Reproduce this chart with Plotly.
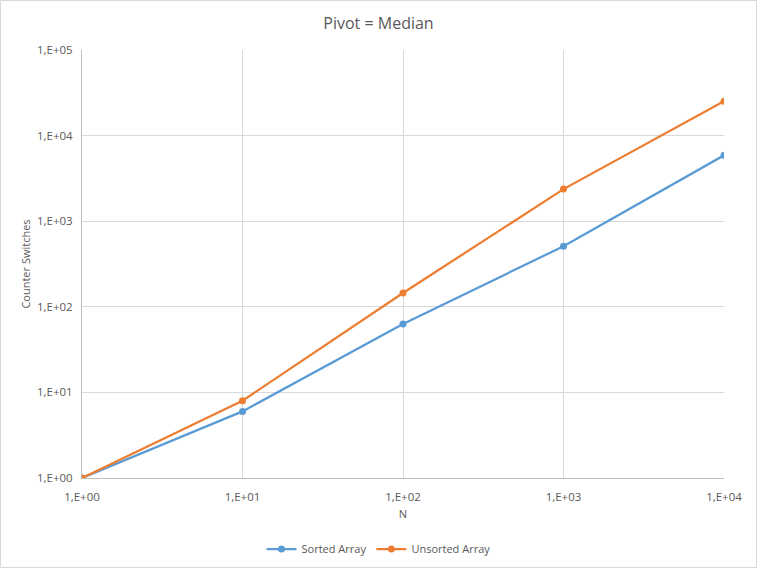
import plotly.graph_objects as go

# Problem sizes and counter switches
n_values = [1, 10, 100, 1000, 10000]
sorted_switches = [1, 6, 63, 510, 5880]
unsorted_switches = [1, 8, 145, 2370, 25200]

# Tick labels in Excel notation
x_ticks = [1, 10, 100, 1000, 10000]
x_labels = ["1,E+00", "1,E+01", "1,E+02", "1,E+03", "1,E+04"]
y_ticks = [1, 10, 100, 1000, 10000, 100000]
y_labels = ["1,E+00", "1,E+01", "1,E+02", "1,E+03", "1,E+04", "1,E+05"]

blue = "#5b9bd5"
orange = "#ed7d31"
font_name = "Open Sans"
text_grey = "#595959"

fig = go.Figure()
fig.add_trace(go.Scatter(
    x=n_values, y=sorted_switches, name="Sorted Array",
    mode="lines+markers",
    line=dict(color=blue, width=2.25),
    marker=dict(color=blue, size=7),
))
fig.add_trace(go.Scatter(
    x=n_values, y=unsorted_switches, name="Unsorted Array",
    mode="lines+markers",
    line=dict(color=orange, width=2.25),
    marker=dict(color=orange, size=7),
))

fig.update_layout(
    width=757, height=568,
    paper_bgcolor="white", plot_bgcolor="white",
    margin=dict(l=82, r=33, t=50, b=90),
    font=dict(family=font_name, size=11, color=text_grey),
    title=dict(text="Pivot = Median", x=0.5, xanchor="center",
               y=1 - 23 / 568, yanchor="middle",
               font=dict(family=font_name, size=16, color=text_grey)),
    legend=dict(orientation="h",
                xref="container", x=0.5, xanchor="center",
                yref="container", y=(568 - 549) / 568, yanchor="middle",
                itemwidth=30,
                font=dict(family=font_name, size=11, color=text_grey)),
    showlegend=True,
)
fig.update_xaxes(
    type="log", range=[0, 4], automargin=False,
    tickvals=x_ticks, ticktext=x_labels,
    tickfont=dict(family=font_name, size=11.5, color=text_grey),
    showgrid=True, gridcolor="#d9d9d9", gridwidth=1,
    showline=True, linecolor="#bfbfbf", linewidth=1,
    zeroline=False,
    ticks="outside", ticklen=8, tickcolor="rgba(0,0,0,0)",
    title=dict(text="N", font=dict(family=font_name, size=11, color=text_grey),
               standoff=7),
)
fig.update_yaxes(
    type="log", range=[0, 5], automargin=False,
    tickvals=y_ticks, ticktext=y_labels,
    tickfont=dict(family=font_name, size=11.5, color=text_grey),
    showgrid=True, gridcolor="#d9d9d9", gridwidth=1,
    showline=True, linecolor="#bfbfbf", linewidth=1,
    zeroline=False,
    ticks="outside", ticklen=6, tickcolor="rgba(0,0,0,0)",
    title=dict(text="Counter Switches",
               font=dict(family=font_name, size=11, color=text_grey),
               standoff=4),
)

# Light border round the whole chart like an Excel chart area
fig.add_shape(type="rect", xref="paper", yref="paper",
              x0=-81.5 / 642, x1=(642 + 32.5) / 642,
              y0=-89.5 / 428, y1=(428 + 49.5) / 428,
              line=dict(color="#d9d9d9", width=1))

# drop the page margin and scrolling so the chart fills the window exactly
page_js = (
    "document.body.style.margin='0';"
    "document.body.style.overflow='hidden';"
    "document.documentElement.style.overflow='hidden';"
)
fig.write_html("out.html", post_script=page_js,
               config={"displayModeBar": False})
